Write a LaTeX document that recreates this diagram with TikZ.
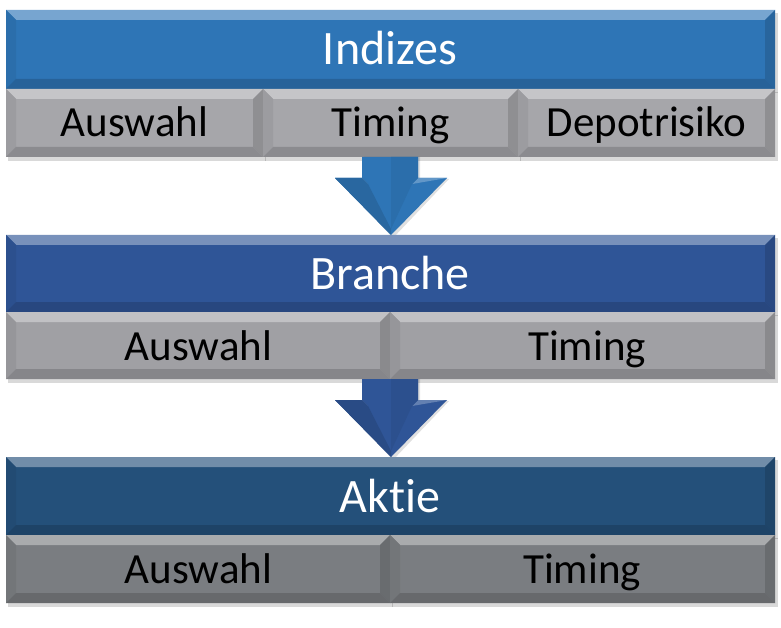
\documentclass[tikz,border=0pt]{standalone}
\usepackage{fontspec}
\setmainfont{Carlito}[Ligatures=NoCommon]
\definecolor{hdA}{RGB}{46,117,182}
\definecolor{hdB}{RGB}{47,85,151}
\definecolor{hdC}{RGB}{36,80,122}
\definecolor{gA}{RGB}{166,166,170}
\definecolor{gB}{RGB}{160,160,164}
\definecolor{gC}{RGB}{122,125,129}
\newcommand{\bevbox}[6]{%
  \fill[black,opacity=0.15] (#1+2,#2+3) rectangle (#3+3,#4+4);
  \fill[#5] (#1,#2) rectangle (#3,#4);
  \fill[#5!65!white] (#1,#2) -- (#3,#2) -- (#3-#6,#2+#6) -- (#1+#6,#2+#6) -- cycle;
  \fill[#5!94!black] (#1,#2) -- (#1+#6,#2+#6) -- (#1+#6,#4-#6) -- (#1,#4) -- cycle;
  \fill[#5!86!black] (#3,#2) -- (#3-#6,#2+#6) -- (#3-#6,#4-#6) -- (#3,#4) -- cycle;
  \fill[#5!84!black] (#1,#4) -- (#1+#6,#4-#6) -- (#3-#6,#4-#6) -- (#3,#4) -- cycle;
}
\newcommand{\bevarrow}[3]{% top y, tip y, color
  \fill[black,opacity=0.12] (364,#1) -- (420,#1) -- (420,#1+22) -- (449,#1+22) -- (393,#2+3) -- (337,#1+22) -- (364,#1+22) -- cycle;
  \fill[#3] (362,#1) -- (418,#1) -- (418,#1+21) -- (447,#1+21) -- (391,#2) -- (335,#1+21) -- (362,#1+21) -- cycle;
  \fill[#3!75!white] (335,#1+21) -- (362,#1+21) -- (368,#1+27) -- cycle;
  \fill[#3!75!white] (418,#1+21) -- (447,#1+21) -- (412,#1+27) -- cycle;
  \fill[#3!88!black] (362,#1+21) -- (368,#1+27) -- (391,#2-6) -- (391,#2) -- (335,#1+21) -- cycle;
  \fill[#3!94!black] (391,#1) -- (418,#1) -- (418,#1+21) -- (412,#1+27) -- (391,#2-6) -- cycle;
}
\begin{document}
\begin{tikzpicture}[x=1pt,y=-1pt,
  hdtext/.style={text=white,font=\fontsize{48}{50}\selectfont,inner sep=0pt,anchor=base},
  subtext/.style={text=black,font=\fontsize{43}{45}\selectfont,inner sep=0pt,anchor=base}]
\useasboundingbox (0,0) rectangle (781,628);
\fill[white] (0,0) rectangle (781,628);
% block 1
\bevbox{6}{10}{775}{89}{hdA}{10}
\bevbox{6}{89}{263}{157}{gA}{10}
\bevbox{263}{89}{518}{157}{gA}{10}
\bevbox{518}{89}{775}{157}{gA}{10}
\node[hdtext] (ind) at (390,65) {Indizes};
\node[subtext] (a1) at (134.5,137) {Auswahl};
\node[subtext] (t1) at (390.5,137) {Timing};
\node[subtext] (d1) at (646.5,137) {Depotrisiko};
% arrow 1
\bevarrow{157}{235}{hdA}
% block 2
\bevbox{6}{235}{775}{312}{hdB}{10}
\bevbox{6}{312}{390}{379}{gB}{10}
\bevbox{390}{312}{775}{379}{gB}{10}
\node[hdtext] (br) at (390,289) {Branche};
\node[subtext] (a2) at (198.5,360) {Auswahl};
\node[subtext] (t2) at (587,360) {Timing};
% arrow 2
\bevarrow{379}{457}{hdB}
% block 3
\bevbox{6}{457}{775}{535}{hdC}{10}
\bevbox{6}{535}{390}{603}{gC}{10}
\bevbox{390}{535}{775}{603}{gC}{10}
\node[hdtext] (ak) at (390,512) {Aktie};
\node[subtext] (a3) at (198.5,583) {Auswahl};
\node[subtext] (t3) at (582,583) {Timing};
\end{tikzpicture}
\end{document}
